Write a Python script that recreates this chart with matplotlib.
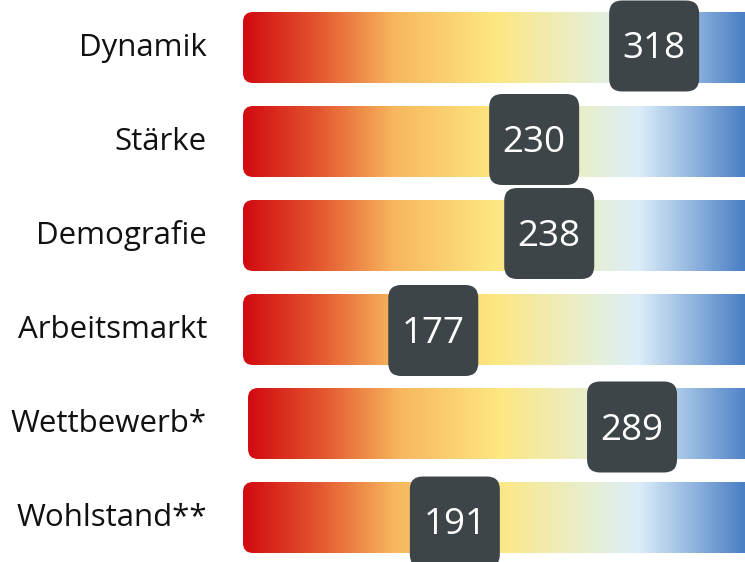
import numpy as np
import matplotlib
matplotlib.use("Agg")
import matplotlib.pyplot as plt
from matplotlib.patches import FancyBboxPatch
from matplotlib.colors import LinearSegmentedColormap, Normalize

# ---- data ----
categories = ["Dynamik", "Stärke", "Demografie", "Arbeitsmarkt", "Wettbewerb*", "Wohlstand**"]
ranks = [318, 230, 238, 177, 289, 191]
# marker position on the 0-100 bar scale
scores = [81.9, 58.0, 61.0, 37.9, 77.5, 42.2]

# ---- layout ----
bar_start = [0, 0, 0, 0, 1, 0]          # scale units
box_dy_px = [-1.5, -2, -2, 1, 3.5, 4.5]  # small vertical nudges of the markers
W, H = 745, 562
PX = 5.02      # pixels per scale unit
ROW = 94       # pixels per row
LEFT = 243     # pixel where scale 0 sits
TOP = 47.5     # pixel centre of first row
FONT = "Open Sans"

fig = plt.figure(figsize=(W / 100, H / 100), dpi=100)
ax = fig.add_axes([0, 0, 1, 1])
ax.axis("off")

stops = [(0, "#d20a11"), (15, "#e3572f"), (30, "#f7b65e"), (50, "#fde780"),
         (71, "#e5efd9"), (79, "#dcedf9"), (100, "#4a7fc5")]
cmap = LinearSegmentedColormap.from_list("grad", [(p / 100, c) for p, c in stops])
norm = Normalize(0, 100)

bar_h = 71 / ROW
asp = PX / ROW
bar_len = 110

for i, (cat, r, s, b0, dy) in enumerate(zip(categories, ranks, scores, bar_start, box_dy_px)):
    x0 = b0
    grad = np.linspace(0, bar_len, 1200)[None, :]
    im = ax.imshow(grad, cmap=cmap, norm=norm, aspect="auto", interpolation="bilinear",
                   extent=[x0, x0 + bar_len, i + bar_h / 2, i - bar_h / 2], zorder=1)
    clip = FancyBboxPatch((x0, i - bar_h / 2), bar_len, bar_h,
                          boxstyle=f"round,pad=0,rounding_size={10 / PX}",
                          mutation_aspect=asp, fc="none", ec="none")
    ax.add_patch(clip)
    im.set_clip_path(clip)

    bw, bh = 90 / PX, 91 / ROW
    yc = i + dy / ROW
    box = FancyBboxPatch((s - bw / 2, yc - bh / 2), bw, bh,
                         boxstyle=f"round,pad=0,rounding_size={13 / PX}",
                         mutation_aspect=asp, fc="#3e4549", ec="none", zorder=3)
    ax.add_patch(box)
    ax.text(s, yc + 3.5 / ROW, str(r), ha="center", va="center", color="white",
            fontsize=26.5, family=FONT, zorder=4)

    ax.text(-(LEFT - 207) / PX, i + 8.5 / ROW, cat, ha="right", va="baseline",
            fontsize=22.5, family=FONT, color="#111111")

ax.set_xlim(-LEFT / PX, (W - LEFT) / PX)
ax.set_ylim((H - TOP) / ROW, -TOP / ROW)

fig.savefig("out.png", dpi=100)
